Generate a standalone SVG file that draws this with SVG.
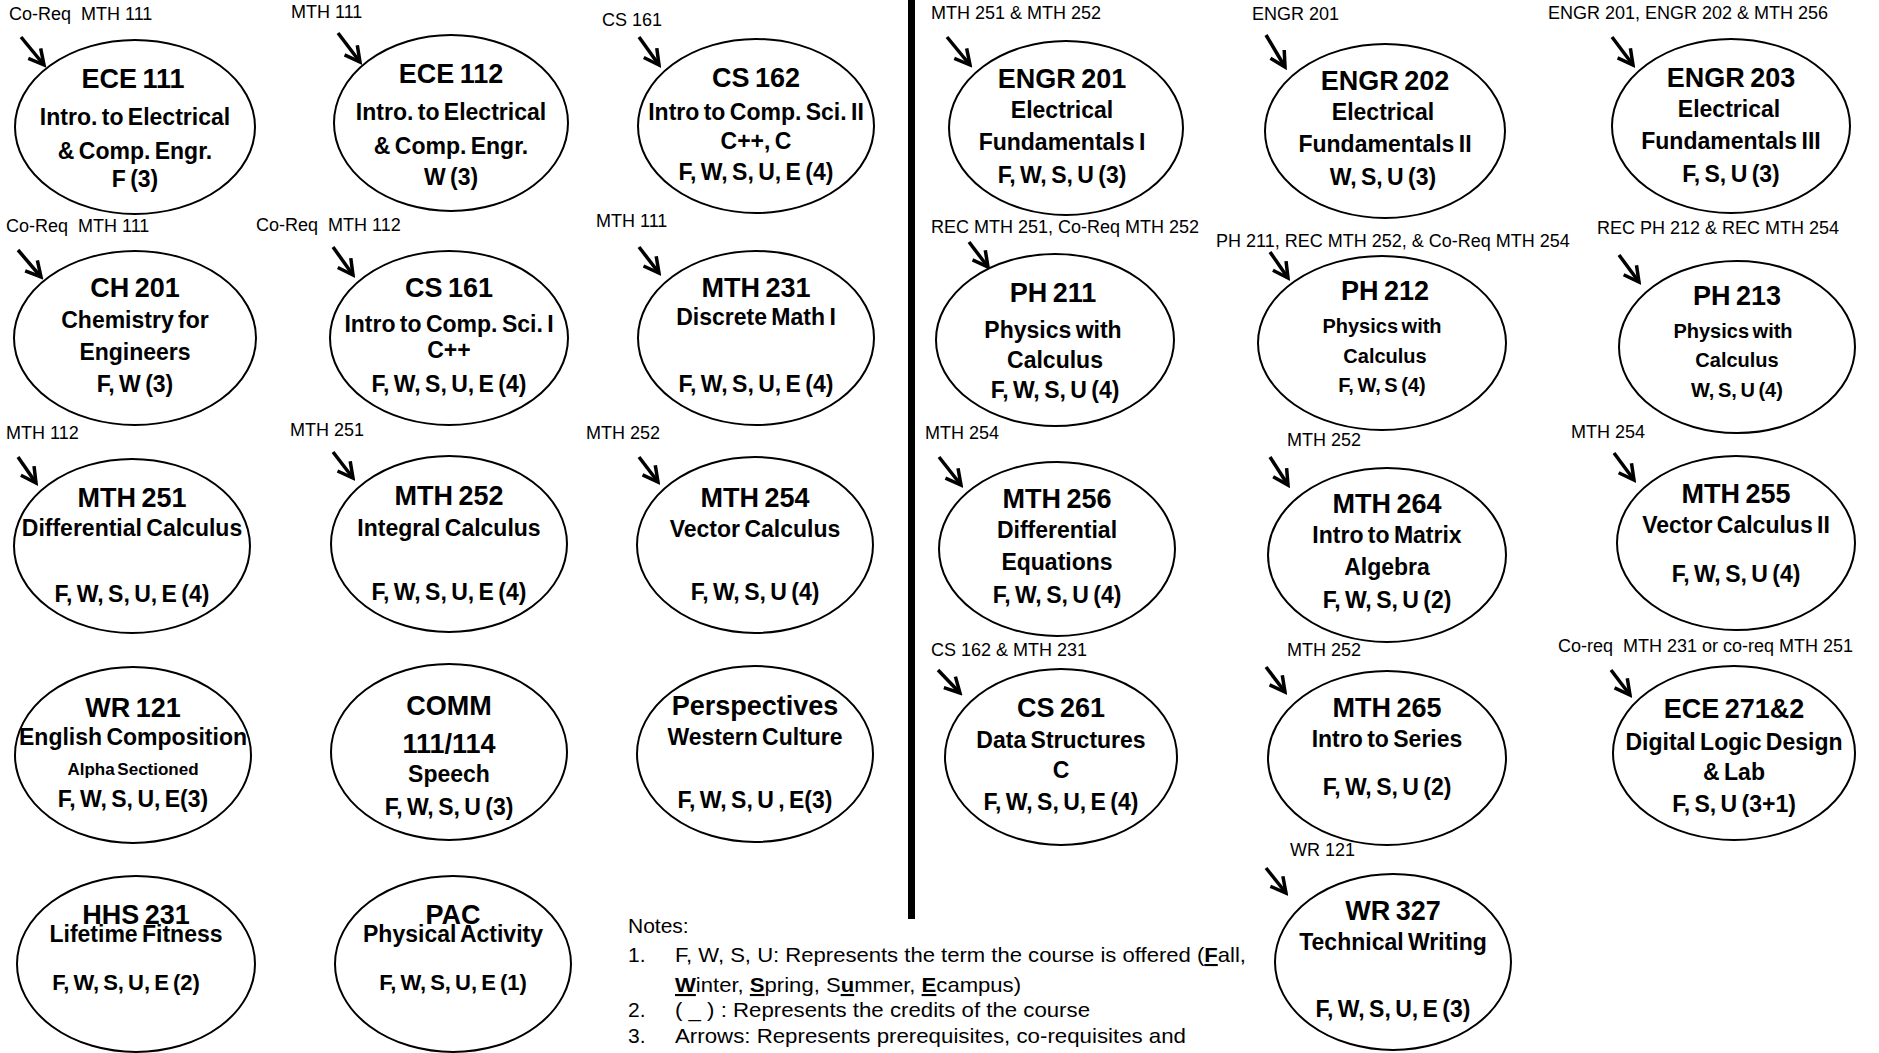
<svg xmlns="http://www.w3.org/2000/svg" width="1879" height="1053" viewBox="0 0 1879 1053">
<style>
.bg{fill:#fff}
.node ellipse{fill:#fff;stroke:#000;stroke-width:2}
.node text{font-family:"Liberation Sans",Arial,sans-serif;font-weight:bold;text-anchor:middle;fill:#000;word-spacing:-2px}
.t1{font-size:27px}
.t2{font-size:23px}
.t3{font-size:20px}
.t4{font-size:17px}
.lbl{font-family:"Liberation Sans",Arial,sans-serif;font-size:18px;fill:#000}
.arrow{stroke:#000;stroke-width:3.5;fill:none;marker-end:url(#ah)}
.notes text{font-family:"Liberation Sans",Arial,sans-serif;font-size:21px;fill:#000}
.u{font-weight:bold;text-decoration:underline}
</style>
<defs>
<marker id="ah" viewBox="0 0 20 20" refX="17" refY="10" markerWidth="20" markerHeight="20" markerUnits="userSpaceOnUse" orient="auto">
<path d="M2,2 L17,10 L2,18" fill="none" stroke="#000" stroke-width="3.5"/>
</marker>
</defs>
<rect class="bg" x="0" y="0" width="1879" height="1053"/>
<rect id="divider" x="908" y="0" width="7" height="919" fill="#000"/>

<g id="connectors">
<line class="arrow" x1="21" y1="37" x2="44" y2="65"/>
<line class="arrow" x1="338" y1="33" x2="360" y2="62"/>
<line class="arrow" x1="639" y1="37" x2="659" y2="65"/>
<line class="arrow" x1="18" y1="250" x2="41" y2="277"/>
<line class="arrow" x1="333" y1="247" x2="353" y2="275"/>
<line class="arrow" x1="639" y1="247" x2="659" y2="273"/>
<line class="arrow" x1="947" y1="37" x2="970" y2="65"/>
<line class="arrow" x1="1266" y1="35" x2="1285" y2="67"/>
<line class="arrow" x1="1612" y1="37" x2="1633" y2="65"/>
<line class="arrow" x1="969" y1="242" x2="988" y2="267"/>
<line class="arrow" x1="1270" y1="252" x2="1288" y2="278"/>
<line class="arrow" x1="1619" y1="255" x2="1639" y2="282"/>
<line class="arrow" x1="18" y1="457" x2="36" y2="483"/>
<line class="arrow" x1="333" y1="452" x2="353" y2="478"/>
<line class="arrow" x1="639" y1="457" x2="658" y2="482"/>
<line class="arrow" x1="939" y1="457" x2="961" y2="485"/>
<line class="arrow" x1="1270" y1="457" x2="1288" y2="485"/>
<line class="arrow" x1="1614" y1="453" x2="1634" y2="480"/>
<line class="arrow" x1="938" y1="670" x2="960" y2="693"/>
<line class="arrow" x1="1266" y1="667" x2="1285" y2="692"/>
<line class="arrow" x1="1611" y1="670" x2="1630" y2="695"/>
<line class="arrow" x1="1266" y1="868" x2="1286" y2="893"/>
<text class="lbl" x="9" y="20">Co-Req&#160; MTH 111</text>
<text class="lbl" x="291" y="18">MTH 111</text>
<text class="lbl" x="602" y="26">CS 161</text>
<text class="lbl" x="6" y="232">Co-Req&#160; MTH 111</text>
<text class="lbl" x="256" y="231">Co-Req&#160; MTH 112</text>
<text class="lbl" x="596" y="227">MTH 111</text>
<text class="lbl" x="931" y="19">MTH 251 &amp; MTH 252</text>
<text class="lbl" x="1252" y="20">ENGR 201</text>
<text class="lbl" x="1548" y="19">ENGR 201, ENGR 202 &amp; MTH 256</text>
<text class="lbl" x="931" y="233">REC MTH 251, Co-Req MTH 252</text>
<text class="lbl" x="1216" y="247">PH 211, REC MTH 252, &amp; Co-Req MTH 254</text>
<text class="lbl" x="1597" y="234">REC PH 212 &amp; REC MTH 254</text>
<text class="lbl" x="6" y="439">MTH 112</text>
<text class="lbl" x="290" y="436">MTH 251</text>
<text class="lbl" x="586" y="439">MTH 252</text>
<text class="lbl" x="925" y="439">MTH 254</text>
<text class="lbl" x="1287" y="446">MTH 252</text>
<text class="lbl" x="1571" y="438">MTH 254</text>
<text class="lbl" x="931" y="656">CS 162 &amp; MTH 231</text>
<text class="lbl" x="1287" y="656">MTH 252</text>
<text class="lbl" x="1558" y="652">Co-req&#160; MTH 231 or co-req MTH 251</text>
<text class="lbl" x="1290" y="856">WR 121</text>
</g>

<g id="ece111" class="node"><ellipse cx="135" cy="127" rx="120" ry="87"/>
<text class="t1" x="133" y="88">ECE 111</text><text class="t2" x="135" y="125">Intro. to Electrical</text><text class="t2" x="135" y="159">&amp; Comp. Engr.</text><text class="t2" x="135" y="187">F (3)</text></g>
<g id="ece112" class="node"><ellipse cx="451" cy="123" rx="117" ry="88"/>
<text class="t1" x="451" y="83">ECE 112</text><text class="t2" x="451" y="120">Intro. to Electrical</text><text class="t2" x="451" y="154">&amp; Comp. Engr.</text><text class="t2" x="451" y="185">W (3)</text></g>
<g id="cs162" class="node"><ellipse cx="756" cy="126" rx="118" ry="87"/>
<text class="t1" x="756" y="87">CS 162</text><text class="t2" x="756" y="120">Intro to Comp. Sci. II</text><text class="t2" x="756" y="149">C++, C</text><text class="t2" x="756" y="180">F, W, S, U, E (4)</text></g>
<g id="ch201" class="node"><ellipse cx="135" cy="338" rx="121" ry="87"/>
<text class="t1" x="135" y="297">CH 201</text><text class="t2" x="135" y="328">Chemistry for</text><text class="t2" x="135" y="360">Engineers</text><text class="t2" x="135" y="392">F, W (3)</text></g>
<g id="cs161" class="node"><ellipse cx="449" cy="338" rx="119" ry="87"/>
<text class="t1" x="449" y="297">CS 161</text><text class="t2" x="449" y="332">Intro to Comp. Sci. I</text><text class="t2" x="449" y="358">C++</text><text class="t2" x="449" y="392">F, W, S, U, E (4)</text></g>
<g id="mth231" class="node"><ellipse cx="756" cy="338" rx="118" ry="87"/>
<text class="t1" x="756" y="297">MTH 231</text><text class="t2" x="756" y="325">Discrete Math I</text><text class="t2" x="756" y="392">F, W, S, U, E (4)</text></g>
<g id="engr201" class="node"><ellipse cx="1066" cy="128" rx="117" ry="87"/>
<text class="t1" x="1062" y="88">ENGR 201</text><text class="t2" x="1062" y="118">Electrical</text><text class="t2" x="1062" y="150">Fundamentals I</text><text class="t2" x="1062" y="183">F, W, S, U (3)</text></g>
<g id="engr202" class="node"><ellipse cx="1385" cy="131" rx="120" ry="87"/>
<text class="t1" x="1385" y="90">ENGR 202</text><text class="t2" x="1383" y="120">Electrical</text><text class="t2" x="1385" y="152">Fundamentals II</text><text class="t2" x="1383" y="185">W, S, U (3)</text></g>
<g id="engr203" class="node"><ellipse cx="1731" cy="126" rx="119" ry="87"/>
<text class="t1" x="1731" y="87">ENGR 203</text><text class="t2" x="1729" y="117">Electrical</text><text class="t2" x="1731" y="149">Fundamentals III</text><text class="t2" x="1731" y="182">F, S, U (3)</text></g>
<g id="ph211" class="node"><ellipse cx="1055" cy="340" rx="119" ry="86"/>
<text class="t1" x="1053" y="302">PH 211</text><text class="t2" x="1053" y="338">Physics with</text><text class="t2" x="1055" y="368">Calculus</text><text class="t2" x="1055" y="398">F, W, S, U (4)</text></g>
<g id="ph212" class="node"><ellipse cx="1382" cy="343" rx="124" ry="87"/>
<text class="t1" x="1385" y="300">PH 212</text><text class="t3" x="1382" y="333">Physics with</text><text class="t3" x="1385" y="363">Calculus</text><text class="t3" x="1382" y="392">F, W, S (4)</text></g>
<g id="ph213" class="node"><ellipse cx="1737" cy="347" rx="118" ry="86"/>
<text class="t1" x="1737" y="305">PH 213</text><text class="t3" x="1733" y="338">Physics with</text><text class="t3" x="1737" y="367">Calculus</text><text class="t3" x="1737" y="397">W, S, U (4)</text></g>
<g id="mth251" class="node"><ellipse cx="132" cy="546" rx="118" ry="87"/>
<text class="t1" x="132" y="507">MTH 251</text><text class="t2" x="132" y="536">Differential Calculus</text><text class="t2" x="132" y="602">F, W, S, U, E (4)</text></g>
<g id="mth252" class="node"><ellipse cx="449" cy="544" rx="118" ry="88"/>
<text class="t1" x="449" y="505">MTH 252</text><text class="t2" x="449" y="536">Integral Calculus</text><text class="t2" x="449" y="600">F, W, S, U, E (4)</text></g>
<g id="mth254" class="node"><ellipse cx="755" cy="545" rx="118" ry="88"/>
<text class="t1" x="755" y="507">MTH 254</text><text class="t2" x="755" y="537">Vector Calculus</text><text class="t2" x="755" y="600">F, W, S, U (4)</text></g>
<g id="mth256" class="node"><ellipse cx="1057" cy="549" rx="118" ry="87"/>
<text class="t1" x="1057" y="508">MTH 256</text><text class="t2" x="1057" y="538">Differential</text><text class="t2" x="1057" y="570">Equations</text><text class="t2" x="1057" y="603">F, W, S, U (4)</text></g>
<g id="mth264" class="node"><ellipse cx="1387" cy="555" rx="119" ry="87"/>
<text class="t1" x="1387" y="513">MTH 264</text><text class="t2" x="1387" y="543">Intro to Matrix</text><text class="t2" x="1387" y="575">Algebra</text><text class="t2" x="1387" y="608">F, W, S, U (2)</text></g>
<g id="mth255" class="node"><ellipse cx="1736" cy="543" rx="119" ry="87"/>
<text class="t1" x="1736" y="503">MTH 255</text><text class="t2" x="1736" y="533">Vector Calculus II</text><text class="t2" x="1736" y="582">F, W, S, U (4)</text></g>
<g id="wr121" class="node"><ellipse cx="133" cy="755" rx="118" ry="88"/>
<text class="t1" x="133" y="717">WR 121</text><text class="t2" x="133" y="745">English Composition</text><text class="t4" x="133" y="775">Alpha Sectioned</text><text class="t2" x="133" y="807">F, W, S, U, E(3)</text></g>
<g id="comm" class="node"><ellipse cx="449" cy="752" rx="118" ry="88"/>
<text class="t1" x="449" y="715">COMM</text><text class="t1" x="449" y="753">111/114</text><text class="t2" x="449" y="782">Speech</text><text class="t2" x="449" y="815">F, W, S, U (3)</text></g>
<g id="perspectives" class="node"><ellipse cx="755" cy="754" rx="118" ry="88"/>
<text class="t1" x="755" y="715">Perspectives</text><text class="t2" x="755" y="745">Western Culture</text><text class="t2" x="755" y="808">F, W, S, U , E(3)</text></g>
<g id="cs261" class="node"><ellipse cx="1061" cy="757" rx="116" ry="88"/>
<text class="t1" x="1061" y="717">CS 261</text><text class="t2" x="1061" y="748">Data Structures</text><text class="t2" x="1061" y="778">C</text><text class="t2" x="1061" y="810">F, W, S, U, E (4)</text></g>
<g id="mth265" class="node"><ellipse cx="1387" cy="758" rx="119" ry="87"/>
<text class="t1" x="1387" y="717">MTH 265</text><text class="t2" x="1387" y="747">Intro to Series</text><text class="t2" x="1387" y="795">F, W, S, U (2)</text></g>
<g id="ece2712" class="node"><ellipse cx="1734" cy="753" rx="121" ry="87"/>
<text class="t1" x="1734" y="718">ECE 271&amp;2</text><text class="t2" x="1734" y="750">Digital Logic Design</text><text class="t2" x="1734" y="780">&amp; Lab</text><text class="t2" x="1734" y="812">F, S, U (3+1)</text></g>
<g id="hhs231" class="node"><ellipse cx="136" cy="964" rx="119" ry="88"/>
<text class="t1" x="136" y="924">HHS 231</text><text class="t2" x="136" y="942">Lifetime Fitness</text><text class="t2" x="126" y="990" style="font-size:22px">F, W, S, U, E (2)</text></g>
<g id="pac" class="node"><ellipse cx="453" cy="964" rx="118" ry="88"/>
<text class="t1" x="453" y="924">PAC</text><text class="t2" x="453" y="942">Physical Activity</text><text class="t2" x="453" y="990" style="font-size:22px">F, W, S, U, E (1)</text></g>
<g id="wr327" class="node"><ellipse cx="1393" cy="962" rx="118" ry="88"/>
<text class="t1" x="1393" y="920">WR 327</text><text class="t2" x="1393" y="950">Technical Writing</text><text class="t2" x="1393" y="1017">F, W, S, U, E (3)</text></g>

<g id="notes" class="notes">
<text x="628" y="933">Notes:</text>
<text x="628" y="962">1.</text>
<text x="675" y="962" textLength="571" lengthAdjust="spacingAndGlyphs">F, W, S, U: Represents the term the course is offered (<tspan class="u">F</tspan>all,</text>
<text x="675" y="992" textLength="346" lengthAdjust="spacingAndGlyphs"><tspan class="u">W</tspan>inter, <tspan class="u">S</tspan>pring, S<tspan class="u">u</tspan>mmer, <tspan class="u">E</tspan>campus)</text>
<text x="628" y="1017">2.</text>
<text x="675" y="1017" textLength="415" lengthAdjust="spacingAndGlyphs">( _ ) : Represents the credits of the course</text>
<text x="628" y="1043">3.</text>
<text x="675" y="1043" textLength="511" lengthAdjust="spacingAndGlyphs">Arrows: Represents prerequisites, co-requisites and</text>
</g>
</svg>
